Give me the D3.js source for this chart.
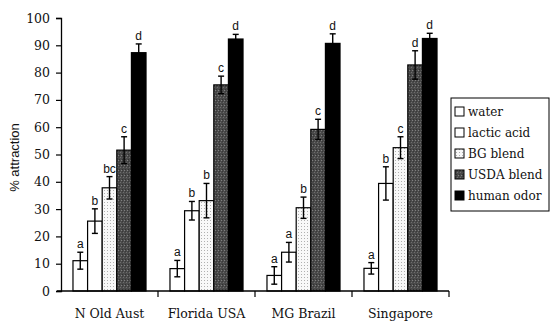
<!DOCTYPE html>
<html>
<head>
<meta charset="utf-8">
<script src="https://cdn.jsdelivr.net/npm/d3@7"></script>
<style>
  body { margin: 0; background: #fff; }
  svg { display: block; }
</style>
</head>
<body>
<svg id="chart" width="550" height="321"></svg>
<script>
// data
var sites = ["N Old Aust", "Florida USA", "MG Brazil", "Singapore"];
var baits = ["water", "lactic acid", "BG blend", "USDA blend", "human odor"];
var attraction = [
    [11.1, 25.6, 37.8, 51.6, 87.3],
    [8.2, 29.4, 33.1, 75.5, 92.3],
    [5.7, 14.2, 30.5, 59.2, 90.7],
    [8.3, 39.4, 52.5, 82.8, 92.5]
];
var errTop = [
    [14.2, 30.1, 41.9, 56.5, 90.5],
    [11.2, 32.8, 39.4, 78.7, 94.0],
    [8.9, 17.8, 34.4, 62.9, 94.2],
    [10.4, 45.5, 56.5, 88.0, 94.4]
];
var letters = [
    ["a", "b", "bc", "c", "d"],
    ["a", "b", "b", "c", "d"],
    ["a", "a", "b", "c", "d"],
    ["a", "b", "c", "d", "d"]
];
var yTicks = [0, 10, 20, 30, 40, 50, 60, 70, 80, 90, 100];

var style = {
    left: 61,
    right: 449,
    top: 18,
    bottom: 291,
    serif: "'DejaVu Serif'",
    sans: "'Liberation Sans'"
};

var svg = d3.select("#chart");

// fills
var defs = svg.append("defs");
var dots = defs.append("pattern")
    .attr("id", "bgDots")
    .attr("width", 3).attr("height", 3)
    .attr("patternUnits", "userSpaceOnUse");
dots.append("rect").attr("width", 3).attr("height", 3).attr("fill", "#f8f8f8");
dots.append("rect").attr("x", 1).attr("y", 1).attr("width", 1).attr("height", 1).attr("fill", "#b0b0b0");

var grain = defs.append("pattern")
    .attr("id", "usdaGrain")
    .attr("width", 3).attr("height", 5)
    .attr("patternUnits", "userSpaceOnUse");
grain.append("rect").attr("width", 3).attr("height", 5).attr("fill", "#4a4a4a");
grain.append("rect").attr("x", 0).attr("y", 0).attr("width", 1).attr("height", 1).attr("fill", "#808080");
grain.append("rect").attr("x", 2).attr("y", 2).attr("width", 1).attr("height", 1).attr("fill", "#6e6e6e");
grain.append("rect").attr("x", 1).attr("y", 4).attr("width", 1).attr("height", 1).attr("fill", "#303030");
grain.append("rect").attr("x", 1).attr("y", 1).attr("width", 1).attr("height", 1).attr("fill", "#3a3a3a");

var fills = ["#ffffff", "#ffffff", "url(#bgDots)", "url(#usdaGrain)", "#000000"];

var x0 = d3.scaleBand().domain(sites).range([style.left, style.right]);
var x1 = d3.scaleBand().domain(baits).range([0, x0.bandwidth()]).paddingOuter(0.82);
var y = d3.scaleLinear().domain([0, 100]).range([style.bottom, style.top]);

// y axis
var yAxis = svg.append("g")
    .attr("transform", "translate(" + style.left + ",0)")
    .call(d3.axisLeft(y).tickValues(yTicks).tickSize(5).tickPadding(6));
yAxis.select(".domain").attr("stroke", "#000").attr("stroke-width", 1.3);
yAxis.selectAll(".tick line").attr("stroke", "#000").attr("stroke-width", 1.2);
yAxis.selectAll("text")
    .style("font-family", style.serif)
    .style("font-size", "12.5px")
    .attr("fill", "#111");

svg.append("text")
    .attr("transform", "translate(19," + ((style.top + style.bottom) / 2 + 3) + ") rotate(-90)")
    .attr("text-anchor", "middle")
    .style("font-family", style.sans)
    .style("font-size", "13px")
    .attr("fill", "#111")
    .text("% attraction");

// bars
var groups = svg.selectAll(".site")
    .data(sites)
    .enter()
    .append("g")
    .attr("class", "site")
    .attr("transform", function(d) { return "translate(" + x0(d) + ",0)"; });

var cells = groups.selectAll(".bar")
    .data(function(d, i) {
        return baits.map(function(b, j) {
            return { bait: b, j: j, v: attraction[i][j], e: errTop[i][j], lab: letters[i][j] };
        });
    })
    .enter()
    .append("g")
    .attr("class", "bar");

cells.append("rect")
    .attr("x", function(d) { return x1(d.bait); })
    .attr("y", function(d) { return y(d.v); })
    .attr("width", x1.bandwidth())
    .attr("height", function(d) { return y(0) - y(d.v); })
    .attr("fill", function(d) { return fills[d.j]; })
    .attr("stroke", "#000")
    .attr("stroke-width", 1.2);

// error bars (symmetric)
var cap = 3;
cells.each(function(d) {
    var g = d3.select(this);
    var cx = x1(d.bait) + x1.bandwidth() / 2;
    var lo = d.v - (d.e - d.v);
    g.append("line")
        .attr("x1", cx).attr("x2", cx)
        .attr("y1", y(d.e)).attr("y2", y(lo))
        .attr("stroke", "#000").attr("stroke-width", 1.4);
    [d.e, lo].forEach(function(val) {
        g.append("line")
            .attr("x1", cx - cap).attr("x2", cx + cap)
            .attr("y1", y(val)).attr("y2", y(val))
            .attr("stroke", "#000").attr("stroke-width", 1.4);
    });
    g.append("text")
        .attr("x", cx)
        .attr("y", y(d.e) - 4)
        .attr("text-anchor", "middle")
        .style("font-family", style.sans)
        .style("font-size", "12px")
        .attr("fill", "#111")
        .text(d.lab);
});

// x axis
svg.append("line")
    .attr("x1", style.left - 4).attr("x2", style.right)
    .attr("y1", style.bottom).attr("y2", style.bottom)
    .attr("stroke", "#000").attr("stroke-width", 1.3);

svg.selectAll(".xtick")
    .data(sites)
    .enter()
    .append("line")
    .attr("class", "xtick")
    .attr("x1", function(d) { return x0(d) + x0.bandwidth(); })
    .attr("x2", function(d) { return x0(d) + x0.bandwidth(); })
    .attr("y1", style.bottom)
    .attr("y2", style.bottom + 6)
    .attr("stroke", "#000")
    .attr("stroke-width", 1.2);

svg.selectAll(".xlabel")
    .data(sites)
    .enter()
    .append("text")
    .attr("class", "xlabel")
    .attr("x", function(d) { return x0(d) + x0.bandwidth() / 2; })
    .attr("y", 318)
    .attr("text-anchor", "middle")
    .style("font-family", style.serif)
    .style("font-size", "12.5px")
    .attr("fill", "#111")
    .text(function(d) { return d; });

// legend
var legend = svg.append("g").attr("transform", "translate(451,98)");
legend.append("rect")
    .attr("width", 98).attr("height", 113)
    .attr("fill", "#fff")
    .attr("stroke", "#000")
    .attr("stroke-width", 1);

var items = legend.selectAll(".item")
    .data(baits)
    .enter()
    .append("g")
    .attr("class", "item")
    .attr("transform", function(d, i) { return "translate(4," + (14 + i * 21) + ")"; });

items.append("rect")
    .attr("x", 0).attr("y", -5)
    .attr("width", 9).attr("height", 9)
    .attr("fill", function(d, i) { return fills[i]; })
    .attr("stroke", "#000")
    .attr("stroke-width", 1);

items.append("text")
    .attr("x", 13)
    .attr("y", 4)
    .style("font-family", style.serif)
    .style("font-size", "12px")
    .attr("fill", "#111")
    .text(function(d) { return d; });
</script>
</body>
</html>
